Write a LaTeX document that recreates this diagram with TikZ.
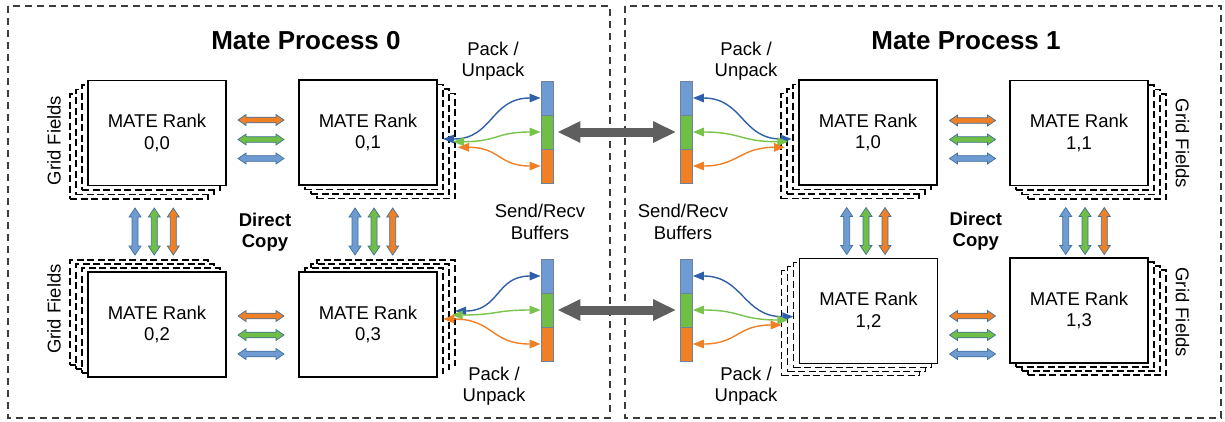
\documentclass[tikz,border=0pt]{standalone}
\usepackage{fontspec}
\setmainfont{Liberation Sans}
\usetikzlibrary{arrows.meta}
\definecolor{fblue}{RGB}{110,155,210}
\definecolor{fgreen}{RGB}{112,190,70}
\definecolor{forange}{RGB}{240,128,38}
\definecolor{cblue}{RGB}{47,95,168}
\definecolor{cgreen}{RGB}{120,195,75}
\definecolor{corange}{RGB}{240,128,38}
\definecolor{arrline}{RGB}{65,113,156}
\definecolor{barline}{RGB}{110,130,160}
\definecolor{biggray}{RGB}{95,95,95}
\definecolor{procgray}{RGB}{60,60,60}
\newcommand\rankfont{\fontsize{18.5pt}{21.5pt}\selectfont}
\newcommand\rankbox[6]{%
  \foreach \k in {3,2,1}{\node[layerbox] at ({#2+\k*(#4)},{#3+\k*(#5)}) {};}
  \node[rankfront] (#1) at (#2,#3) {MATE Rank\\#6};}
\newcommand\harr[3]{\filldraw[blockarr, fill=#3, shift={(#1,#2)}]
  (-23,0)--(-15,-5.5)--(-15,-2.8)--(15,-2.8)--(15,-5.5)--(23,0)--(15,5.5)--(15,2.8)--(-15,2.8)--(-15,5.5)--cycle;}
\newcommand\varr[3]{\filldraw[blockarr, fill=#3, shift={(#1,#2)}]
  (0,-23.5)--(-6,-14.5)--(-3,-14.5)--(-3,14.5)--(-6,14.5)--(0,23.5)--(6,14.5)--(3,14.5)--(3,-14.5)--(6,-14.5)--cycle;}
\begin{document}
\begin{tikzpicture}[x=1pt,y=-1pt,
  procbox/.style={draw=procgray, line width=1.2pt, dash pattern=on 7pt off 5pt},
  layerbox/.style={draw=black, fill=white, line width=1.2pt, dash pattern=on 7pt off 3.5pt,
    minimum width=138pt, minimum height=105pt, inner sep=0pt},
  rankfront/.style={draw=black, fill=white, line width=1.3pt, minimum width=138pt,
    minimum height=105pt, inner sep=0pt, align=center, font=\rankfont},
  bufseg/.style={draw=barline, line width=0.8pt, minimum width=12pt, minimum height=34pt, inner sep=0pt},
  conn/.style={line width=1.4pt, {Triangle[length=11pt,width=8.5pt]}-{Triangle[length=11pt,width=8.5pt]}},
  bigarr/.style={draw=biggray, line width=9pt, shorten <=4pt, shorten >=4pt,
    {Triangle[length=23pt,width=20pt]}-{Triangle[length=23pt,width=20pt]}},
  blockarr/.style={draw=arrline, line width=0.7pt},
  lbl/.style={align=center, font=\rankfont, inner sep=0pt},
  lblb/.style={align=center, font=\bfseries\rankfont, inner sep=0pt},
  ttl/.style={anchor=base, inner sep=0pt, font=\bfseries\fontsize{26pt}{30pt}\selectfont}]
\useasboundingbox (0,0) rectangle (1225,421);
% process frames
\draw[procbox] (8,6) rectangle (610,418);
\draw[procbox] (625,6) rectangle (1221,418);
\node[ttl] (t0) at (306,49.3) {Mate Process 0};
\node[ttl] (t1) at (966,49.3) {Mate Process 1};
% ranks
\rankbox{r00}{157}{133}{-6}{4.5}{0,0}
\rankbox{r01}{368}{132.5}{6}{4.5}{0,1}
\rankbox{r02}{157}{324.5}{-6}{-4}{0,2}
\rankbox{r03}{368}{324.5}{6}{-4}{0,3}
\rankbox{r10}{868}{132.5}{-6}{4.5}{1,0}
\rankbox{r11}{1079}{133}{6}{4.5}{1,1}
\rankbox{r12}{868.5}{311}{-6}{4}{1,2}
\rankbox{r13}{1079}{310.5}{6}{4}{1,3}
% grid field labels
\node[lbl, rotate=90] (g00) at (54,140.5) {Grid Fields};
\node[lbl, rotate=90] (g02) at (54,309) {Grid Fields};
\node[lbl, rotate=-90] (g11) at (1182.5,143.5) {Grid Fields};
\node[lbl, rotate=-90] (g13) at (1182.5,312.3) {Grid Fields};
% buffers
\node[bufseg, fill=fblue]   (b0tb) at (547,98) {};
\node[bufseg, fill=fgreen]  (b0tg) at (547,132) {};
\node[bufseg, fill=forange] (b0to) at (547,166) {};
\node[bufseg, fill=fblue]   (b0bb) at (547,276) {};
\node[bufseg, fill=fgreen]  (b0bg) at (547,310) {};
\node[bufseg, fill=forange] (b0bo) at (547,344) {};
\node[bufseg, fill=fblue]   (b1tb) at (686.5,98) {};
\node[bufseg, fill=fgreen]  (b1tg) at (686.5,132) {};
\node[bufseg, fill=forange] (b1to) at (686.5,166) {};
\node[bufseg, fill=fblue]   (b1bb) at (686.5,276) {};
\node[bufseg, fill=fgreen]  (b1bg) at (686.5,310) {};
\node[bufseg, fill=forange] (b1bo) at (686.5,344) {};
% big gray arrows
\draw[bigarr] (b0tg.east) -- (b1tg.west);
\draw[bigarr] (b0bg.east) -- (b1bg.west);
% curve end points at the ranks
\coordinate (e01b) at (443,139);
\coordinate (e01g) at (453,141.7);
\coordinate (e01o) at (458,147.3);
\coordinate (e03b) at (455,311);
\coordinate (e03g) at (451.7,315);
\coordinate (e03o) at (443.3,319);
\coordinate (e10b) at (791.7,139);
\coordinate (e10g) at (788.3,141.7);
\coordinate (e10o) at (785,147.3);
\coordinate (e12b) at (793.3,316.7);
\coordinate (e12g) at (788.3,320);
\coordinate (e12o) at (781.7,325);
% pack / unpack curves
\draw[conn, cblue]   (e01b) .. controls +(50,0) and +(-50,0) .. (b0tb.west);
\draw[conn, cgreen]  (e01g) .. controls +(45,0) and +(-45,0) .. (b0tg.west);
\draw[conn, corange] (e01o) .. controls +(42,0) and +(-42,0) .. (b0to.west);
\draw[conn, cblue]   (e03b) .. controls +(45,0) and +(-45,0) .. (b0bb.west);
\draw[conn, cgreen]  (e03g) .. controls +(45,0) and +(-45,0) .. (b0bg.west);
\draw[conn, corange] (e03o) .. controls +(50,0) and +(-50,0) .. (b0bo.west);
\draw[conn, cblue]   (e10b) .. controls +(-50,0) and +(50,0) .. (b1tb.east);
\draw[conn, cgreen]  (e10g) .. controls +(-48,0) and +(48,0) .. (b1tg.east);
\draw[conn, corange] (e10o) .. controls +(-45,0) and +(45,0) .. (b1to.east);
\draw[conn, cblue]   (e12b) .. controls +(-50,0) and +(50,0) .. (b1bb.east);
\draw[conn, cgreen]  (e12g) .. controls +(-48,0) and +(48,0) .. (b1bg.east);
\draw[conn, corange] (e12o) .. controls +(-45,0) and +(45,0) .. (b1bo.east);
% horizontal direct copy arrows
\harr{261}{120}{forange}\harr{261}{139.5}{fgreen}\harr{261}{158.5}{fblue}
\harr{261}{316}{forange}\harr{261}{335}{fgreen}\harr{261}{354}{fblue}
\harr{972.5}{120.5}{forange}\harr{972.5}{139.5}{fgreen}\harr{972.5}{158.5}{fblue}
\harr{972.5}{316}{forange}\harr{972.5}{335}{fgreen}\harr{972.5}{354}{fblue}
% vertical direct copy arrows
\varr{135}{231.5}{fblue}\varr{154.3}{231.5}{fgreen}\varr{173.3}{231.5}{forange}
\varr{355}{231.5}{fblue}\varr{374}{231.5}{fgreen}\varr{392.7}{231.5}{forange}
\varr{846.7}{231}{fblue}\varr{866}{231}{fgreen}\varr{885}{231}{forange}
\varr{1065.7}{231}{fblue}\varr{1085}{231}{fgreen}\varr{1104.3}{231}{forange}
% labels
\node[lbl] (pu0t) at (493,61) {Pack /\\Unpack};
\node[lbl] (pu0b) at (494,386) {Pack /\\Unpack};
\node[lbl] (pu1t) at (746,61) {Pack /\\Unpack};
\node[lbl] (pu1b) at (746,386) {Pack /\\Unpack};
\node[lbl] (sr0) at (540,222) {Send/Recv\\Buffers};
\node[lbl] (sr1) at (683,222) {Send/Recv\\Buffers};
\node[lblb] (dc0) at (265,232) {Direct\\Copy};
\node[lblb] (dc1) at (975.8,231) {Direct\\Copy};
\end{tikzpicture}
\end{document}
